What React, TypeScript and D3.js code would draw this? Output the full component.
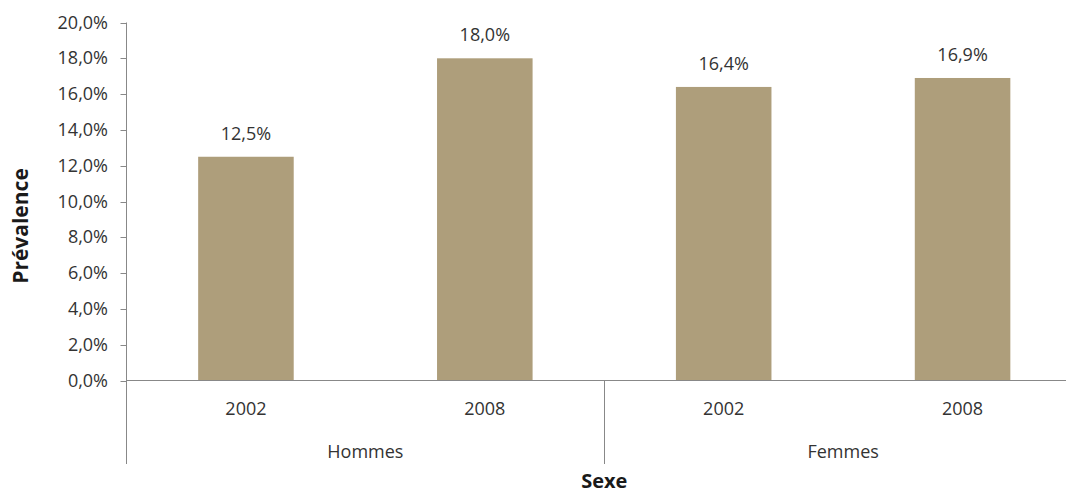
import React from "react";
import * as d3 from "d3";

// Prévalence par sexe et par année
const groups = ["Hommes", "Femmes"];
const years = ["2002", "2008"];
const hommesValues = [12.5, 18.0];
const femmesValues = [16.4, 16.9];
const yTicks = [0, 2, 4, 6, 8, 10, 12, 14, 16, 18, 20];

const W = 1066;
const H = 495;
const FONT = "'Open Sans', 'Liberation Sans', sans-serif";
const TEXT = "#333333";
const AXIS = "#888888";
const BAR = "#ae9e7b";

type Row = { key: string; group: string; year: string; value: number };

const rows: Row[] = [
  ...years.map((y, i) => ({ key: `Hommes-${y}`, group: groups[0], year: y, value: hommesValues[i] })),
  ...years.map((y, i) => ({ key: `Femmes-${y}`, group: groups[1], year: y, value: femmesValues[i] })),
];

const fmt = (v: number) => v.toFixed(1).replace(".", ",") + "%";

export default function App() {
  const left = 126.5;
  const right = 1082;
  const y0 = 380.5;
  const yTop = 22.5;

  const x = d3
    .scaleBand<string>()
    .domain(rows.map((r) => r.key))
    .range([left, right])
    .paddingInner(0.6)
    .paddingOuter(0.3);
  const step = x.step();

  const y = d3.scaleLinear().domain([0, 20]).range([y0, yTop]);

  const groupCenters = groups.map((g) => {
    const keys = rows.filter((r) => r.group === g).map((r) => r.key);
    const a = x(keys[0])!;
    const b = x(keys[keys.length - 1])! + x.bandwidth();
    return { g, c: (a + b) / 2 };
  });

  return (
    <div style={{ position: "absolute", left: 0, top: 0 }}>
      <svg width={W} height={H} style={{ display: "block", background: "#fff" }}>
        {/* bars */}
        {rows.map((r) => (
          <rect
            key={r.key}
            x={x(r.key)!}
            y={y(r.value)}
            width={x.bandwidth()}
            height={y(0) - y(r.value)}
            fill={BAR}
          />
        ))}
        {/* value labels */}
        {rows.map((r) => (
          <text
            key={"l" + r.key}
            x={x(r.key)! + x.bandwidth() / 2}
            y={y(r.value) - 17}
            textAnchor="middle"
            fontFamily={FONT}
            fontSize={18}
            fill={TEXT}
          >
            {fmt(r.value)}
          </text>
        ))}

        {/* y axis */}
        <line x1={left} x2={left} y1={yTop} y2={464} stroke={AXIS} strokeWidth={1} />
        {yTicks.map((t) => (
          <g key={t}>
            <line x1={left - 6} x2={left} y1={Math.round(y(t)) + 0.5} y2={Math.round(y(t)) + 0.5} stroke={AXIS} />
            <text
              x={108}
              y={y(t) + 6}
              textAnchor="end"
              fontFamily={FONT}
              fontSize={18}
              fill={TEXT}
            >
              {fmt(t)}
            </text>
          </g>
        ))}

        {/* x axis */}
        <line x1={left} x2={right} y1={y0} y2={y0} stroke={AXIS} strokeWidth={1} />
        <line
          x1={Math.round(left + 2 * step) + 0.5}
          x2={Math.round(left + 2 * step) + 0.5}
          y1={y0}
          y2={464}
          stroke={AXIS}
        />
        {rows.map((r) => (
          <text
            key={"y" + r.key}
            x={x(r.key)! + x.bandwidth() / 2}
            y={415}
            textAnchor="middle"
            fontFamily={FONT}
            fontSize={18}
            fill={TEXT}
          >
            {r.year}
          </text>
        ))}
        {groupCenters.map((gc) => (
          <text
            key={gc.g}
            x={gc.c}
            y={458}
            textAnchor="middle"
            fontFamily={FONT}
            fontSize={18}
            fill={TEXT}
          >
            {gc.g}
          </text>
        ))}

        {/* axis titles */}
        <text
          x={left + 2 * step}
          y={488}
          textAnchor="middle"
          fontFamily={FONT}
          fontSize={20}
          fontWeight="bold"
          fill="#1a1a1a"
        >
          Sexe
        </text>
        <text
          transform={`translate(28,226) rotate(-90)`}
          textAnchor="middle"
          fontFamily={FONT}
          fontSize={21}
          fontWeight="bold"
          fill="#1a1a1a"
        >
          Prévalence
        </text>
      </svg>
    </div>
  );
}
